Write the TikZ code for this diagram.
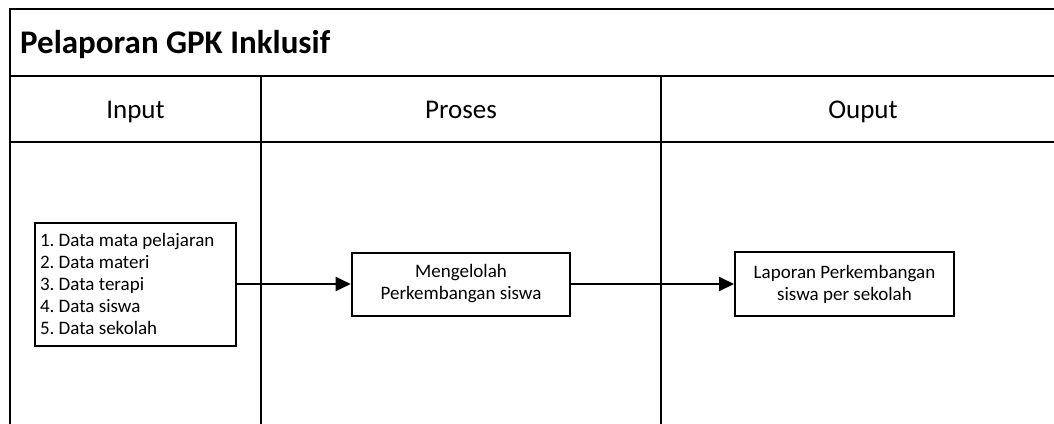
\documentclass[tikz,border=0pt]{standalone}
\usepackage{fontspec}
\setmainfont{Carlito}
\usetikzlibrary{arrows.meta}
\newcommand\procboxfont{\frenchspacing\fontsize{19}{22}\selectfont}
\newcommand\fontspaces{\spaceskip=0pt\xspaceskip=0pt\relax}
\begin{document}
\begin{tikzpicture}[x=1pt,y=-1pt,
  lane/.style={line width=2pt,draw=black},
  procbox/.style={draw=black,line width=2pt,align=center,font=\procboxfont,inner sep=0pt},
  flow/.style={line width=2pt,-{Triangle[length=15pt,width=14pt]}},
  lanehead/.style={font=\fontsize{27}{30}\selectfont,anchor=base}]
  \clip (0,0) rectangle (1054,423);
  % pool frame and lane separators
  \draw[lane] (10,430) -- (10,9) -- (1070,9);
  \draw[lane] (10,76) -- (1070,76);
  \draw[lane] (10,142) -- (1070,142);
  \draw[lane] (261,76) -- (261,430);
  \draw[lane] (661,76) -- (661,430);
  % titles
  \node[anchor=base west,inner sep=0pt,font=\fontsize{33}{36}\selectfont\bfseries] (title) at (20,53) {Pelaporan GPK Inklusif};
  \node[lanehead] (hin) at (135.5,118) {Input};
  \node[lanehead] (hpro) at (461,118) {Proses};
  \node[lanehead] (hout) at (863,118) {Ouput};
  % process boxes
  \node[procbox,align=left,text width=191pt,inner xsep=5pt,minimum height=123pt] (inp) at (135.5,284)
    {\fontspaces 1. Data mata pelajaran\\2. Data materi\\3. Data terapi\\4. Data siswa\\5. Data sekolah};
  \node[procbox,minimum width=218.6pt,minimum height=63pt] (proc) at (461,284)
    {Mengelolah\\Perkembangan siswa};
  \node[procbox,minimum width=219pt,minimum height=64pt] (out) at (844.5,284)
    {Laporan Perkembangan\\siswa per sekolah};
  % connectors
  \draw[flow] (inp.east) -- (proc.west);
  \draw[flow] (proc.east) -- (out.west);
\end{tikzpicture}
\end{document}
